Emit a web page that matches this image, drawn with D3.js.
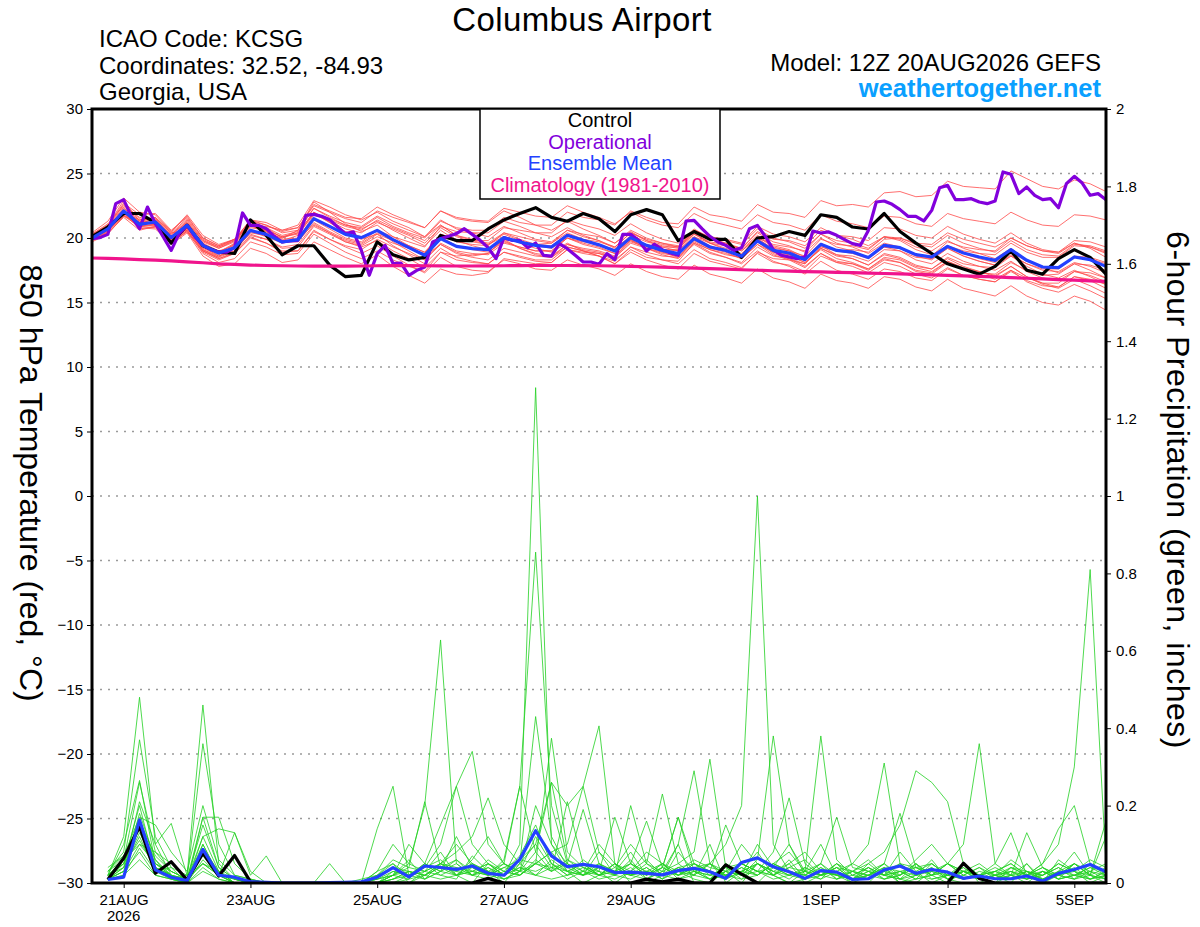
<!DOCTYPE html>
<html><head><meta charset="utf-8">
<script src="https://cdn.jsdelivr.net/npm/d3@7"></script>
<style>
body{margin:0;background:#fff}
svg{display:block}
text{font-family:"Liberation Sans",Arial,Helvetica,sans-serif}
</style>
</head><body>
<svg id="chart" width="1200" height="927"></svg>
<script>
// ---------------- DATA ----------------
const titleText = "Columbus Airport";
const infoLeft = ["ICAO Code: KCSG", "Coordinates: 32.52, -84.93", "Georgia, USA"];
const modelText = "Model: 12Z 20AUG2026 GEFS";
const siteText = "weathertogether.net";
const legendLabels = ["Control", "Operational", "Ensemble Mean", "Climatology (1981-2010)"];
const leftTitle = "850 hPa Temperature (red, °C)";
const rightTitle = "6-hour Precipitation (green, inches)";

const runStart = [2026, 7, 20, 12];   // 12Z 20AUG2026 (UTC, month 0-based)
const runEnd = [2026, 8, 5, 12];      // 12Z 05SEP2026
const stepHours = 6;
const opStepHours = 3;

const tempTicks = [-30, -25, -20, -15, -10, -5, 0, 5, 10, 15, 20, 25, 30];
const gridTicks = [-25, -20, -15, -10, -5, 0, 5, 10, 15, 20, 25];
const precipTicks = [0, 0.2, 0.4, 0.6, 0.8, 1, 1.2, 1.4, 1.6, 1.8, 2];
const precipTickLabels = ["0", "0.2", "0.4", "0.6", "0.8", "1", "1.2", "1.4", "1.6", "1.8", "2"];
const dateTicks = [[2026,7,21],[2026,7,23],[2026,7,25],[2026,7,27],[2026,7,29],[2026,8,1],[2026,8,3],[2026,8,5]];
const dateTickLabels = ["21AUG", "23AUG", "25AUG", "27AUG", "29AUG", "1SEP", "3SEP", "5SEP"];
const yearLabel = "2026";

// Control 850 hPa temperature, 6-hourly from 12Z 20AUG (65 values)
const controlTemp = [20.1,
 20.85,21.9,21.9,21.2,19.6,21.0,19.4,18.9,
 18.8,21.4,20.2,18.7,19.4,19.4,17.9,17.0,
 17.1,19.7,18.7,18.3,18.5,20.2,19.8,19.8,
 20.7,21.4,21.9,22.35,21.6,21.3,21.9,21.5,
 20.5,21.8,22.2,21.8,19.8,20.5,19.9,19.9,
 18.5,20.0,20.1,20.5,20.2,21.8,21.6,20.85,
 20.7,21.9,20.5,19.6,18.8,18.0,17.6,17.2,
 17.8,19.0,17.5,17.2,18.4,19.1,18.5,17.2];

// Operational 850 hPa temperature, 3-hourly (129 values)
const operationalTemp = [19.95,20.03,20.28,22.66,22.97,21.63,20.72,22.40,21.11,20.08,19.04,20.34,20.98,20.08,19.43,19.10,18.91,
 18.91,19.25,21.94,20.98,20.98,20.72,20.13,19.69,19.77,19.82,21.76,21.83,21.68,21.42,20.85,20.34,
 20.47,19.04,17.11,18.79,19.43,18.01,18.06,17.11,17.49,17.75,19.69,19.95,20.13,20.34,20.72,20.28,
 19.82,19.25,18.40,20.03,19.82,19.82,19.25,19.61,18.66,18.60,19.56,19.17,18.66,18.14,18.14,17.96,
 18.79,18.32,20.28,20.28,19.82,18.99,19.51,19.10,18.84,18.66,21.32,21.37,20.72,20.13,19.69,19.43,
 19.04,19.25,20.72,20.98,20.13,19.10,18.66,18.53,18.40,18.53,20.54,20.39,20.47,20.21,19.87,19.56,
 19.43,20.59,22.79,22.87,22.61,22.20,21.68,21.68,21.32,22.14,23.90,24.08,22.97,22.97,23.05,22.79,
 22.66,22.87,25.12,24.94,23.44,23.95,23.31,22.97,23.05,22.35,24.21,24.78,24.26,23.31,23.44,22.97];

// Ensemble mean 850 hPa temperature (65 values)
const meanTemp = [20.0,
 20.7,22.1,21.06,21.24,20.03,20.98,19.43,18.84,
 19.25,20.59,20.28,19.69,19.87,21.5,20.9,20.28,
 20.03,20.59,19.87,19.25,18.66,19.95,19.35,19.17,
 19.1,20.03,19.69,19.43,19.3,20.21,19.82,19.47,
 18.99,20.03,19.43,19.04,18.79,19.95,19.3,19.04,
 18.58,19.77,19.04,18.84,18.32,19.51,19.04,18.91,
 18.48,19.43,19.25,18.71,18.53,19.35,18.84,18.53,
 18.27,19.1,18.27,17.75,17.7,18.53,18.32,17.8];

// Climatology (1981-2010) 850 hPa temperature (65 values)
const climTemp = [18.45,
 18.42,18.38,18.33,18.28,18.22,18.15,18.08,18.0,
 17.95,17.9,17.87,17.85,17.83,17.82,17.82,17.82,
 17.83,17.85,17.86,17.86,17.85,17.84,17.83,17.83,
 17.84,17.85,17.86,17.87,17.87,17.87,17.86,17.85,
 17.83,17.8,17.77,17.74,17.7,17.66,17.62,17.58,
 17.54,17.5,17.46,17.43,17.4,17.37,17.34,17.31,
 17.28,17.25,17.22,17.18,17.14,17.1,17.06,17.02,
 16.98,16.93,16.88,16.83,16.78,16.73,16.68,16.63];

// Ensemble members 850 hPa temperature (65 values each)
const memberTemp = [
 [20.1, 20.9,22.6,21.5,21.0,20.3,21.4,19.8,19.2, 19.7,21.2,20.8,20.2,20.5,22.3,21.6,21.0, 20.8,21.6,20.9,20.4,20.0,21.3,20.8,20.6, 20.6,21.6,21.2,21.0,21.0,22.0,21.6,21.4, 21.0,22.1,21.6,21.2,21.1,22.4,21.8,21.6, 21.3,22.6,22.0,21.9,21.6,22.9,22.5,22.6, 22.4,23.5,23.6,23.2,23.3,24.4,24.0,23.9, 23.8,25.2,24.6,24.0,23.8,24.5,24.2,23.6],
 [19.9, 20.5,21.8,20.8,20.7,19.6,20.5,18.9,18.3, 18.8,20.1,19.6,19.0,19.0,20.6,19.9,19.3, 18.8,19.4,18.6,17.9,17.3,18.5,17.8,17.5, 17.4,18.3,18.0,17.6,17.5,18.3,17.9,17.6, 17.1,18.0,17.4,17.0,16.8,17.9,17.2,16.9, 16.5,17.6,16.9,16.6,16.1,17.2,16.7,16.5, 16.1,17.0,16.8,16.2,15.9,16.8,16.1,15.8, 15.5,16.3,15.5,15.0,14.8,15.5,15.1,14.4],
 [20.2, 21.0,22.9,21.3,21.6,20.4,20.6,19.0,18.5, 19.6,21.3,20.8,20.0,20.6,22.8,22.0,21.1, 20.5,21.0,20.1,19.4,18.6,19.5,18.9,18.6, 18.8,19.9,19.2,18.7,18.5,19.3,19.0,18.6, 18.0,19.1,18.5,18.3,18.2,19.6,19.1,18.7, 18.5,20.0,19.5,19.3,19.0,20.3,19.8,19.6, 19.2,20.1,19.9,19.3,19.0,19.8,19.2,18.8, 18.4,19.2,18.3,17.7,17.3,18.0,17.5,16.9],
 [20.4, 21.3,23.1,22.0,21.8,20.5,21.8,20.2,19.5, 19.9,21.0,20.9,20.6,21.0,22.9,22.4,21.8, 21.4,22.0,21.3,20.8,20.1,21.0,20.2,19.8, 19.5,20.1,19.6,19.2,18.9,19.6,19.0,18.6, 18.0,18.9,18.3,17.9,17.6,18.8,18.2,17.9, 17.6,18.9,18.4,18.3,18.0,19.3,19.0,19.1, 18.9,19.9,20.0,19.6,19.5,20.4,19.9,19.6, 19.3,20.0,19.4,19.0,18.8,19.6,19.3,18.8],
 [19.8, 20.4,21.6,20.6,20.9,19.5,20.4,18.6,17.8, 18.0,19.2,18.8,18.1,18.3,19.7,19.1,18.5, 18.0,18.7,17.8,17.1,16.5,17.6,17.2,17.1, 17.3,18.4,18.2,18.0,18.1,19.1,18.8,18.6, 18.2,19.3,18.9,18.6,18.5,19.8,19.2,18.9, 18.4,19.5,18.7,18.3,17.7,18.8,18.2,18.0, 17.5,18.3,18.1,17.4,17.2,18.1,17.6,17.3, 17.2,18.1,17.5,17.1,17.2,18.0,17.9,17.5],
 [20.0, 20.8,22.3,21.4,21.5,20.2,21.3,19.7,19.2, 19.8,21.4,21.2,20.6,20.8,22.6,22.1,21.6, 21.5,22.4,21.8,21.3,20.8,22.1,21.5,21.3, 21.2,22.1,21.6,21.0,20.6,21.3,20.7,20.2, 19.6,20.5,19.8,19.3,19.0,20.1,19.4,19.0, 18.6,19.7,18.9,18.6,18.1,19.2,18.6,18.4, 17.9,18.8,18.5,17.9,17.6,18.4,17.8,17.4, 17.0,17.8,17.0,16.5,16.2,17.0,16.7,16.1],
 [19.9, 20.6,21.9,21.0,21.3,19.9,20.8,19.1,18.6, 19.2,20.3,19.9,19.2,19.3,20.9,20.3,19.7, 19.4,20.1,19.6,19.2,18.8,20.3,19.9,19.8, 19.8,20.8,20.6,20.4,20.4,21.4,21.0,20.7, 20.2,21.1,20.4,19.9,19.6,20.7,20.0,19.6, 19.1,20.2,19.4,19.1,18.5,19.6,19.0,18.8, 18.4,19.3,19.2,18.7,18.6,19.7,19.3,19.1, 19.0,20.0,19.4,19.0,18.9,19.8,19.7,19.3],
 [20.1, 20.7,22.0,20.9,21.0,19.7,20.5,18.8,18.1, 18.4,19.7,19.3,18.7,18.8,20.3,19.6,18.9, 18.4,19.0,18.3,17.8,17.4,18.9,18.6,18.7, 18.8,19.9,19.7,19.5,19.6,20.6,20.3,20.1, 19.6,20.6,20.0,19.6,19.3,20.4,19.6,19.1, 18.6,19.7,18.8,18.4,17.8,18.8,18.1,17.8, 17.3,18.1,17.8,17.2,16.9,17.7,17.1,16.8, 16.6,17.4,16.7,16.3,16.2,17.0,16.8,16.4],
 [20.3, 21.1,22.5,21.6,21.4,20.1,21.1,19.6,19.0, 19.4,20.5,20.1,19.6,19.9,21.8,21.3,20.7, 20.4,21.2,20.7,20.2,19.6,20.8,20.1,19.7, 19.5,20.3,19.8,19.4,19.2,20.0,19.5,19.2, 18.8,19.9,19.5,19.3,19.3,20.6,20.1,19.9, 19.6,20.9,20.3,20.1,19.7,20.8,20.2,19.9, 19.4,20.1,19.8,19.1,18.7,19.4,18.8,18.4, 18.1,18.9,18.2,17.8,17.7,18.6,18.5,18.1],
 [19.7, 20.3,21.7,21.2,21.4,20.3,21.2,19.5,18.9, 19.5,20.9,20.6,20.1,20.4,22.0,21.2,20.4, 19.9,20.3,19.4,18.7,18.0,19.2,18.5,18.2, 18.0,18.9,18.5,18.2,18.1,19.1,18.9,18.8, 18.5,19.7,19.3,19.1,19.0,20.3,19.7,19.5, 19.2,20.5,19.9,19.8,19.4,20.6,20.2,20.1, 19.8,20.8,20.7,20.2,20.0,20.9,20.3,19.9, 19.6,20.4,19.6,19.1,18.9,19.6,19.2,18.5],
 [20.0, 20.6,22.2,21.2,21.1,19.8,20.9,19.3,18.6, 19.0,20.4,20.2,19.8,20.2,21.9,21.5,21.0, 20.7,21.3,20.6,20.0,19.4,20.6,19.8,19.4, 19.1,19.8,19.2,18.8,18.6,19.5,19.1,18.9, 18.5,19.6,19.2,18.9,18.8,20.1,19.6,19.4, 19.0,20.1,19.3,19.0,18.4,19.4,18.7,18.4, 17.9,18.7,18.4,17.8,17.6,18.5,18.0,17.8, 17.7,18.6,18.0,17.6,17.6,18.5,18.4,18.0],
 [20.2, 20.9,22.4,21.0,21.0,19.8,20.7,19.2,18.7, 19.3,20.8,20.6,20.1,20.3,21.9,21.2,20.5, 20.1,20.6,19.7,19.0,18.3,19.5,18.8,18.5, 18.3,19.2,18.9,18.6,18.5,19.5,19.2,19.0, 18.6,19.8,19.4,19.1,19.1,20.5,20.0,19.8, 19.5,20.7,20.0,19.7,19.2,20.3,19.6,19.3, 18.8,19.6,19.3,18.7,18.4,19.2,18.6,18.2, 17.9,18.6,17.8,17.2,16.9,17.5,17.0,16.4],
 [19.8, 20.5,21.9,21.2,21.5,20.4,21.5,19.9,19.3, 19.8,21.0,20.5,19.8,19.8,21.1,20.4,19.8, 19.5,20.3,19.8,19.4,18.9,20.3,19.7,19.5, 19.4,20.4,20.1,19.8,19.6,20.4,19.9,19.5, 19.0,19.9,19.2,18.7,18.4,19.5,18.8,18.5, 18.1,19.3,18.6,18.4,18.0,19.2,18.7,18.6, 18.2,19.1,19.0,18.5,18.4,19.4,19.0,18.8, 18.7,19.6,18.9,18.5,18.5,19.4,19.3,18.9],
 [20.1, 20.8,22.0,20.7,20.9,19.6,20.6,19.0,18.4, 18.9,20.2,19.9,19.3,19.5,21.0,20.4,19.7, 19.3,19.8,19.0,18.4,17.7,18.9,18.3,18.1, 18.0,18.9,18.6,18.3,18.3,19.3,19.0,18.8, 18.3,19.3,18.7,18.3,18.0,19.1,18.4,18.1, 17.7,18.8,18.1,17.9,17.4,18.6,18.1,18.0, 17.6,18.5,18.3,17.7,17.4,18.2,17.6,17.2, 16.8,17.5,16.6,16.1,15.8,16.4,15.9,15.3],
 [20.3, 21.0,22.7,21.8,21.9,20.6,21.6,20.0,19.4, 19.9,21.4,21.0,20.4,20.6,22.3,21.7,21.2, 20.9,21.7,21.1,20.6,20.1,21.4,20.7,20.4, 20.1,20.9,20.4,19.9,19.7,20.6,20.1,19.8, 19.3,20.4,19.8,19.5,19.3,20.5,19.9,19.6, 19.2,20.4,19.7,19.4,18.9,20.0,19.3,19.0, 18.5,19.3,19.0,18.3,18.0,18.8,18.2,17.8, 17.5,18.2,17.4,16.9,16.7,17.4,17.1,16.6],
 [19.9, 20.6,21.8,21.0,21.3,20.1,21.2,19.8,19.3, 19.9,21.1,20.6,19.9,20.0,21.4,20.7,20.0, 19.7,20.6,20.1,19.7,19.3,20.9,20.5,20.4, 20.4,21.3,20.9,20.4,20.1,20.8,20.2,19.8, 19.2,20.1,19.4,18.9,18.5,19.6,18.9,18.5, 18.0,19.0,18.2,17.8,17.2,18.2,17.5,17.2, 16.8,17.6,17.4,16.9,16.7,17.6,17.1,16.8, 16.6,17.5,16.9,16.5,16.5,17.4,17.3,16.9],
 [20.0, 20.7,22.1,21.3,21.0,19.9,20.8,19.3,18.9, 19.6,21.0,20.5,19.7,19.7,21.2,20.5,19.9, 19.6,20.4,19.9,19.4,18.9,20.1,19.4,19.1, 18.9,19.7,19.3,19.0,19.0,20.0,19.7,19.5, 19.1,20.2,19.7,19.4,19.2,20.3,19.6,19.2, 18.8,19.9,19.2,19.0,18.6,19.9,19.5,19.4, 19.1,20.1,20.0,19.5,19.3,20.2,19.6,19.2, 18.9,19.8,19.1,18.7,18.6,19.5,19.4,19.0],
 [20.2, 20.8,22.2,20.9,20.8,19.6,20.8,19.1,18.5, 19.0,20.5,20.4,20.0,20.4,22.0,21.4,20.9, 20.6,21.4,20.8,20.3,19.8,21.0,20.2,19.9, 19.6,20.4,19.9,19.5,19.4,20.3,19.9,19.7, 19.3,20.4,19.9,19.6,19.4,20.6,19.9,19.5, 19.0,20.0,19.1,18.7,18.1,19.1,18.4,18.1, 17.6,18.4,18.1,17.5,17.3,18.2,17.7,17.4, 17.1,17.8,17.0,16.4,16.1,16.8,16.3,15.7],
 [20.0, 20.6,22.0,21.4,21.6,20.5,21.7,20.0,19.4, 19.9,21.3,21.0,20.5,20.8,22.5,22.0,21.5, 21.2,22.1,21.6,21.2,20.8,22.1,21.6,21.4, 21.3,22.3,22.0,21.7,21.6,22.5,22.0,21.6, 21.1,22.0,21.4,21.0,20.8,21.9,21.3,21.0, 20.7,21.8,21.2,21.0,20.6,21.8,21.3,21.1, 20.8,21.7,21.6,21.1,20.9,21.9,21.5,21.3, 21.1,22.0,21.4,21.0,20.9,21.8,21.7,21.4],
 [19.9, 20.4,21.7,20.9,21.1,19.8,20.6,19.0,18.4, 18.8,20.0,19.6,18.9,19.0,20.5,19.9,19.4, 19.1,19.9,19.3,18.8,18.3,19.6,19.0,18.8, 18.7,19.6,19.3,19.0,19.0,20.0,19.6,19.3, 18.8,19.8,19.2,18.8,18.6,19.7,19.1,18.8, 18.4,19.5,18.9,18.7,18.3,19.5,19.0,18.9, 18.5,19.4,19.2,18.6,18.3,19.2,18.6,18.2, 17.9,18.7,18.0,17.5,17.4,18.1,17.8,17.3]
];

// Control 6-hour precipitation, valid 18Z 20AUG onward (64 values)
const controlPrecip = [0.009,0.064,0.146,0.025,0.055,0.008,0.077,0.018,
 0.071,0.003,0,0,0,0,0,0,
 0,0,0,0,0,0,0,0,
 0.012,0,0,0,0,0,0,0,
 0,0,0.01,0.003,0.01,0,0,0.047,
 0.023,0,0,0,0,0,0,0,
 0,0,0,0,0,0,0.051,0.012,
 0,0,0,0,0,0,0,0];

// Ensemble mean 6-hour precipitation (64 values)
const meanPrecip = [0.009,0.015,0.163,0.034,0.015,0.006,0.087,0.020,
 0.015,0.003,0.002,0,0,0,0.001,0.002,
 0.003,0.015,0.040,0.016,0.044,0.040,0.035,0.044,
 0.025,0.020,0.061,0.135,0.070,0.042,0.048,0.042,
 0.027,0.028,0.025,0.021,0.032,0.038,0.029,0.012,
 0.053,0.065,0.042,0.029,0.012,0.032,0.028,0.009,
 0.011,0.034,0.044,0.025,0.035,0.028,0.012,0.018,
 0.011,0.011,0.018,0.005,0.025,0.035,0.048,0.029];

// Ensemble members 6-hour precipitation (64 values each)
const memberPrecip = [
 [0.02,0.12,0.48,0.1,0.02,0,0.08,0.03, 0,0,0,0,0,0,0,0, 0,0.02,0.05,0,0.03,0.08,0.02,0, 0.05,0.02,0.1,1.28,0.1,0.03,0,0.02, 0.05,0,0,0.02,0.1,0,0,0.03, 0,0.05,0.02,0,0.03,0.1,0.02,0, 0,0.04,0,0.02,0.06,0.01,0,0, 0.02,0,0.05,0,0.03,0.08,0.02,0],
 [0.01,0.05,0.2,0.04,0.01,0.02,0.46,0.05, 0.01,0,0,0,0,0,0,0, 0,0,0.02,0.06,0.01,0.03,0.12,0.04, 0.02,0.06,0.25,0.855,0.2,0.05,0.02,0.08, 0.02,0.06,0.01,0.03,0.05,0.02,0.1,0, 0.03,0.08,0.02,0.05,0,0.02,0.01,0.03, 0.06,0.02,0.08,0.03,0,0.02,0.05,0, 0,0.04,0.02,0,0.06,0.03,0,0.02],
 [0.03,0.08,0.37,0.12,0.04,0,0.1,0.02, 0.01,0,0,0,0,0,0,0, 0,0.03,0.1,0.05,0.2,0.628,0.05,0.02, 0.04,0.01,0.03,0.12,0.05,0.02,0.06,0.03, 0,0.03,0.06,0.02,0.03,0.01,0,0.05, 0.02,0,0.04,0.1,0.02,0.01,0.03,0, 0.02,0.05,0.01,0,0.03,0.02,0.04,0.01, 0,0.02,0,0.03,0.01,0.05,0.02,0.04],
 [0.02,0.06,0.26,0.08,0.03,0.01,0.36,0.1, 0.02,0.01,0,0,0,0,0,0, 0,0.01,0.03,0.02,0.05,0.02,0.01,0.07, 0.03,0,0.05,0.43,0.12,0.04,0.02,0.05, 0.03,0.02,0.04,0.01,0.08,0.03,0.05,0.1, 0.2,1.0,0.1,0.03,0.02,0.05,0.01,0.02, 0.04,0.01,0.02,0.05,0.02,0,0.03,0.01, 0.02,0.01,0.03,0,0.02,0.01,0.05,0.03],
 [0.01,0.04,0.21,0.1,0.154,0.02,0.05,0.03, 0.01,0,0,0,0,0,0,0, 0,0,0.02,0.03,0.01,0.05,0.03,0.02, 0.01,0.03,0.02,0.05,0.374,0.08,0.04,0.02, 0.05,0.02,0.01,0.04,0.02,0.03,0.01,0.02, 0.05,0.03,0.02,0,0.01,0.02,0.04,0.01, 0.02,0.03,0,0.01,0.02,0.05,0.03,0.02, 0.01,0.04,0.02,0.05,0.1,0.3,0.81,0.05],
 [0.02,0.1,0.265,0.05,0.02,0,0.17,0.17, 0.05,0.01,0,0,0,0,0,0, 0,0.01,0.02,0.1,0.05,0.15,0.25,0.34, 0.1,0.05,0.02,0.06,0.03,0.21,0.05,0.02, 0.03,0.08,0.02,0.05,0.01,0.03,0.02,0.04, 0.01,0.02,0.05,0.03,0.01,0.04,0.02,0.01, 0.03,0.02,0.01,0.05,0.02,0.03,0.01,0.02, 0.03,0.01,0.02,0.04,0.01,0.02,0.03,0.01],
 [0.01,0.03,0.18,0.06,0.01,0,0.08,0.02, 0.13,0.02,0.07,0,0,0,0,0, 0,0.14,0.25,0.02,0.05,0.03,0.02,0.04, 0.02,0.05,0.03,0.08,0.26,0.2,0.25,0.406, 0.05,0.02,0.04,0.01,0.03,0.02,0.05,0.01, 0.03,0.05,0.02,0.06,0.01,0.03,0.02,0.01, 0.04,0.02,0.03,0.01,0.05,0.02,0.01,0.03, 0.02,0.01,0.03,0.02,0.04,0.01,0.02,0.16],
 [0.02,0.05,0.15,0.04,0.02,0.01,0.12,0.03, 0,0,0,0,0,0,0,0, 0.01,0.02,0.06,0.04,0.21,0.04,0.02,0.05, 0.03,0.02,0.05,0.1,0.04,0.05,0.19,0.05, 0.02,0.2,0.05,0.02,0.04,0.03,0.01,0.05, 0.02,0.06,0.38,0.1,0.03,0.02,0.05,0.01, 0.02,0.04,0.01,0.02,0.03,0.01,0.02,0.04, 0.01,0.02,0.01,0.03,0.02,0.05,0.02,0.01],
 [0.01,0.04,0.12,0.03,0.01,0,0.06,0.02, 0,0,0,0,0,0,0.05,0, 0,0,0.03,0.02,0.04,0.1,0.25,0.1, 0.05,0.02,0.04,0.02,0.06,0.03,0.02,0.04, 0.03,0.05,0.02,0.04,0.17,0.03,0.02,0.01, 0.03,0.02,0.05,0.08,0.03,0.38,0.06,0.02, 0.01,0.03,0.02,0.05,0.01,0.02,0.03,0.01, 0.02,0.03,0.01,0.02,0.05,0.03,0.01,0.02],
 [0.02,0.06,0.1,0.05,0.03,0.01,0.05,0.02, 0,0,0,0,0,0,0,0, 0,0.02,0.04,0.03,0.02,0.05,0.08,0.12, 0.22,0.1,0.05,0.02,0.04,0.01,0.03,0.02, 0.01,0.03,0.02,0.05,0.02,0.04,0.01,0.03, 0.05,0.03,0.02,0.04,0.06,0.02,0.03,0.05, 0.1,0.31,0.05,0.02,0.04,0.01,0.03,0.02, 0.04,0.02,0.05,0.01,0.03,0.02,0.04,0.03],
 [0.01,0.03,0.08,0.02,0.01,0,0.04,0.01, 0,0,0,0,0,0,0,0, 0,0,0.01,0.03,0.02,0.04,0.03,0.05, 0.03,0.05,0.25,0.08,0.03,0.05,0.02,0.03, 0.02,0.04,0.01,0.03,0.02,0.05,0.03,0.02, 0.01,0.05,0.03,0.02,0.04,0.02,0.03,0.01, 0.05,0.08,0.15,0.29,0.26,0.21,0.05,0.02, 0.03,0.05,0.02,0.01,0.03,0.05,0.02,0.01],
 [0.03,0.07,0.14,0.06,0.02,0.01,0.15,0.04, 0.01,0,0,0,0,0,0,0, 0,0,0.02,0.01,0.05,0.03,0.06,0.02, 0.04,0.02,0.06,0.1,0.26,0.06,0.03,0.05, 0.03,0.02,0.05,0.03,0.1,0.29,0.05,0.02, 0.04,0.02,0.05,0.03,0.02,0.04,0.01,0.03, 0.02,0.04,0.03,0.01,0.02,0.05,0.1,0.36, 0.05,0.02,0.03,0.01,0.02,0.04,0.01,0.02],
 [0.02,0.05,0.11,0.04,0.02,0,0.09,0.03, 0,0,0,0,0,0,0,0, 0,0.01,0.02,0.05,0.03,0.02,0.04,0.03, 0.02,0.04,0.03,0.05,0.08,0.1,0.25,0.08, 0.04,0.1,0.05,0.23,0.05,0.08,0.32,0.04, 0.02,0.05,0.03,0.01,0.04,0.02,0.05,0.03, 0.01,0.03,0.05,0.02,0.04,0.01,0.03,0.02, 0.05,0.13,0.02,0.03,0.01,0.02,0.04,0.02],
 [0.01,0.02,0.09,0.03,0.04,0.02,0.07,0.02, 0.01,0,0,0,0,0,0,0, 0,0,0.01,0.02,0.04,0.06,0.02,0.03, 0.05,0.02,0.04,0.03,0.05,0.02,0.04,0.03, 0.17,0.05,0.02,0.04,0.17,0.05,0.03,0.15, 0.05,0.03,0.08,0.22,0.05,0.02,0.04,0.03, 0.02,0.05,0.18,0.04,0.02,0.03,0.01,0.02, 0.03,0.02,0.13,0.04,0.02,0.01,0.03,0.05],
 [0.02,0.04,0.13,0.05,0.02,0.01,0.1,0.02, 0,0,0,0,0,0,0,0, 0,0.03,0.05,0.02,0.03,0.05,0.04,0.02, 0.06,0.03,0.02,0.05,0.04,0.03,0.05,0.02, 0.03,0.05,0.16,0.04,0.02,0.05,0.03,0.02, 0.04,0.02,0.05,0.03,0.02,0.05,0.17,0.04, 0.03,0.02,0.05,0.04,0.02,0.05,0.03,0.02, 0.01,0.03,0.02,0.05,0.14,0.2,0.05,0.02],
 [0.01,0.02,0.06,0.02,0.01,0,0.03,0.01, 0,0,0,0,0,0,0,0, 0,0,0,0.01,0.02,0.01,0.02,0.03, 0.02,0.01,0.03,0.02,0.01,0.02,0.03,0.01, 0.02,0.01,0.03,0.02,0.01,0.02,0.01,0.03, 0.02,0.03,0.01,0.02,0.01,0.03,0.02,0.01, 0.02,0.01,0.03,0.02,0.01,0.02,0.01,0.02, 0.01,0.02,0.01,0.03,0.01,0.02,0.01,0.03],
 [0.04,0.07,0.17,0.15,0.08,0.03,0.2,0.06, 0.02,0.01,0,0,0,0,0,0, 0,0,0.02,0.04,0.03,0.05,0.02,0.06, 0.12,0.05,0.03,0.2,0.1,0.05,0.03,0.1, 0.05,0.03,0.08,0.05,0.03,0.06,0.04,0.03, 0.1,0.05,0.03,0.05,0.08,0.03,0.02,0.05, 0.03,0.05,0.02,0.06,0.1,0.05,0.02,0.04, 0.02,0.06,0.03,0.02,0.05,0.03,0.06,0.04],
 [0.02,0.05,0.14,0.04,0.02,0,0.12,0.14, 0.13,0.03,0,0,0,0,0,0, 0,0,0,0.02,0.01,0.03,0.05,0.02, 0.03,0.01,0.02,0.05,0.03,0.06,0.04,0.02, 0.05,0.02,0.03,0.01,0.04,0.02,0.05,0.03, 0.02,0.1,0.04,0.02,0.03,0.01,0.05,0.02, 0.04,0.02,0.01,0.03,0.05,0.02,0.04,0.01, 0.03,0.05,0.02,0.04,0.02,0.05,0.03,0.02],
 [0.01,0.03,0.1,0.08,0.05,0.01,0.05,0.02, 0,0,0,0,0,0,0,0, 0,0,0,0,0.02,0.05,0.1,0.05, 0.02,0.04,0.06,0.05,0.08,0.03,0.05,0.02, 0.04,0.02,0.03,0.05,0.02,0.04,0.05,0.02, 0.03,0.05,0.02,0.04,0.03,0.05,0.02,0.03, 0.05,0.02,0.03,0.04,0.05,0.02,0.03,0.05, 0.02,0.03,0.01,0.02,0.04,0.02,0.01,0.03],
 [0.03,0.06,0.16,0.07,0.03,0.01,0.17,0.04, 0.01,0,0,0,0,0,0,0, 0,0,0.01,0.03,0.02,0.04,0.06,0.03, 0.05,0.03,0.07,0.15,0.05,0.03,0.02,0.04, 0.02,0.05,0.03,0.02,0.04,0.05,0.02,0.04, 0.05,0.03,0.04,0.02,0.03,0.02,0.04,0.01, 0.03,0.01,0.02,0.04,0.03,0.05,0.02,0.01, 0.02,0.04,0.03,0.01,0.02,0.03,0.02,0.12]
];

// ---------------- CHART ----------------
const colors = {
  control: "#000000", operational: "#8200dc", mean: "#2341ff", clim: "#f0148c",
  memberT: "#ff4a4a", memberP: "#22d022", site: "#0aa0ff", grid: "#9a9a9a"
};
const plot = {left: 92, right: 1106, top: 109, bottom: 883};
const FONT = '"Liberation Sans", Arial, Helvetica, sans-serif';

const svg = d3.select("#chart");
const utc = a => new Date(Date.UTC(a[0], a[1], a[2], a[3] || 0));
const t0 = utc(runStart);
const timeAt = h => new Date(t0.getTime() + h * 3600e3);

const x = d3.scaleUtc().domain([t0, utc(runEnd)]).range([plot.left, plot.right]);
const yT = d3.scaleLinear().domain([-30, 30]).range([plot.bottom, plot.top]);
const yP = d3.scaleLinear().domain([0, 2]).range([plot.bottom, plot.top]);

svg.append("rect").attr("width", 1200).attr("height", 927).attr("fill", "#fff");

svg.append("defs").append("clipPath").attr("id", "clip")
  .append("rect").attr("x", plot.left).attr("y", plot.top)
  .attr("width", plot.right - plot.left).attr("height", plot.bottom - plot.top);

// gridlines
svg.append("g").selectAll("line").data(gridTicks).join("line")
  .attr("x1", plot.left).attr("x2", plot.right)
  .attr("y1", d => yT(d)).attr("y2", d => yT(d))
  .attr("stroke", colors.grid).attr("stroke-width", 1.3)
  .attr("stroke-dasharray", "2,6");

const g = svg.append("g").attr("clip-path", "url(#clip)");

const lineT = d3.line().x((d, i) => x(timeAt(i * stepHours))).y(d => yT(d));
const lineOp = d3.line().x((d, i) => x(timeAt(i * opStepHours))).y(d => yT(d));
const lineP = d3.line().x((d, i) => x(timeAt((i + 1) * stepHours))).y(d => yP(d));

// precip members
g.append("g").selectAll("path").data(memberPrecip).join("path")
  .attr("d", lineP).attr("fill", "none")
  .attr("stroke", colors.memberP).attr("stroke-width", 0.8);
// temp members
g.append("g").selectAll("path").data(memberTemp).join("path")
  .attr("d", lineT).attr("fill", "none")
  .attr("stroke", colors.memberT).attr("stroke-width", 0.8);

const thick = 3.2;
g.append("path").datum(controlPrecip).attr("d", lineP).attr("fill", "none")
  .attr("stroke", colors.control).attr("stroke-width", thick).attr("stroke-linejoin", "round");
g.append("path").datum(meanPrecip).attr("d", lineP).attr("fill", "none")
  .attr("stroke", colors.mean).attr("stroke-width", thick).attr("stroke-linejoin", "round");

g.append("path").datum(controlTemp).attr("d", lineT).attr("fill", "none")
  .attr("stroke", colors.control).attr("stroke-width", thick).attr("stroke-linejoin", "round");
g.append("path").datum(operationalTemp).attr("d", lineOp).attr("fill", "none")
  .attr("stroke", colors.operational).attr("stroke-width", thick).attr("stroke-linejoin", "round");
g.append("path").datum(meanTemp).attr("d", lineT).attr("fill", "none")
  .attr("stroke", colors.mean).attr("stroke-width", thick).attr("stroke-linejoin", "round");
g.append("path").datum(climTemp).attr("d", lineT).attr("fill", "none")
  .attr("stroke", colors.clim).attr("stroke-width", thick).attr("stroke-linejoin", "round");

// axes
const styleAxis = sel => {
  sel.select(".domain").remove();
  sel.selectAll(".tick line").attr("stroke", "#000").attr("stroke-width", 1);
  sel.selectAll(".tick text").attr("font-family", FONT).attr("font-size", 15).attr("fill", "#000");
};
svg.append("g").attr("transform", `translate(${plot.left},0)`)
  .call(d3.axisLeft(yT).tickValues(tempTicks).tickSize(5).tickPadding(4).tickFormat(d3.format("d")))
  .call(styleAxis);
svg.append("g").attr("transform", `translate(${plot.right},0)`)
  .call(d3.axisRight(yP).tickValues(precipTicks).tickSize(5).tickPadding(5)
    .tickFormat((d, i) => precipTickLabels[i]))
  .call(styleAxis);
svg.append("g").attr("transform", `translate(0,${plot.bottom})`)
  .call(d3.axisBottom(x).tickValues(dateTicks.map(utc)).tickSize(5).tickPadding(6)
    .tickFormat((d, i) => dateTickLabels[i]))
  .call(styleAxis);
svg.append("text").attr("x", x(utc(dateTicks[0]))).attr("y", 921)
  .attr("text-anchor", "middle").attr("font-family", FONT).attr("font-size", 15).text(yearLabel);

// frame
svg.append("rect").attr("x", plot.left).attr("y", plot.top)
  .attr("width", plot.right - plot.left).attr("height", plot.bottom - plot.top)
  .attr("fill", "none").attr("stroke", "#000").attr("stroke-width", 3);

// legend
const lg = svg.append("g");
lg.append("rect").attr("x", 480).attr("y", plot.top).attr("width", 240).attr("height", 90)
  .attr("fill", "#fff").attr("stroke", "#000").attr("stroke-width", 1.5);
const legendColors = [colors.control, colors.operational, colors.mean, colors.clim];
lg.selectAll("text").data(legendLabels).join("text")
  .attr("x", 600).attr("y", (d, i) => 127 + i * 21.6)
  .attr("text-anchor", "middle").attr("font-family", FONT).attr("font-size", 20)
  .attr("fill", (d, i) => legendColors[i]).text(d => d);

// header
svg.append("text").attr("x", 582).attr("y", 31).attr("text-anchor", "middle")
  .attr("font-family", FONT).attr("font-size", 33).attr("letter-spacing", 0.4).text(titleText);
svg.append("g").selectAll("text").data(infoLeft).join("text")
  .attr("x", 99).attr("y", (d, i) => 47 + i * 26.5)
  .attr("font-family", FONT).attr("font-size", 24).text(d => d);
svg.append("text").attr("x", 1101).attr("y", 71).attr("text-anchor", "end")
  .attr("font-family", FONT).attr("font-size", 24).text(modelText);
svg.append("text").attr("x", 1101).attr("y", 97).attr("text-anchor", "end")
  .attr("font-family", FONT).attr("font-size", 25.5).attr("font-weight", "bold")
  .attr("fill", colors.site).text(siteText);

// axis titles (rotated, reading top to bottom)
svg.append("text").attr("transform", "translate(20,483) rotate(90)")
  .attr("text-anchor", "middle").attr("font-family", FONT).attr("font-size", 32).text(leftTitle);
svg.append("text").attr("transform", "translate(1167,490) rotate(90)")
  .attr("text-anchor", "middle").attr("font-family", FONT).attr("font-size", 32)
  .attr("letter-spacing", 0.5).text(rightTitle);
</script>
</body></html>
